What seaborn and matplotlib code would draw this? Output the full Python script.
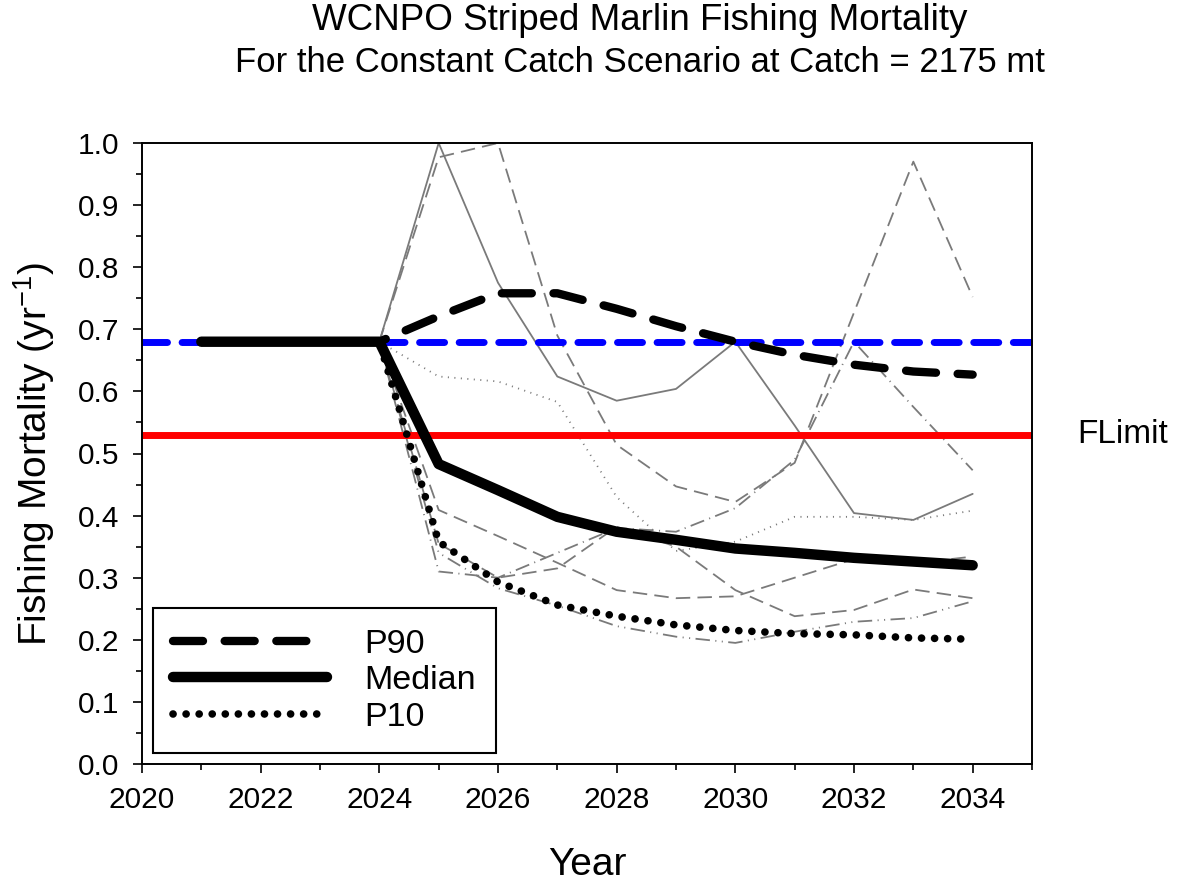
import numpy as np
import pandas as pd
import matplotlib
matplotlib.use("Agg")
import matplotlib.pyplot as plt
from matplotlib.ticker import MultipleLocator, FormatStrFormatter
import seaborn as sns

# Summary series (historical years + projection)
years = [2021, 2022, 2023, 2024, 2025, 2026, 2027, 2028, 2029, 2030, 2031, 2032, 2033, 2034]
p90 = [0.68, 0.68, 0.68, 0.68, 0.721, 0.758, 0.758, 0.733, 0.705, 0.68, 0.659, 0.643, 0.632, 0.627]
median = [0.68, 0.68, 0.68, 0.68, 0.483, 0.441, 0.398, 0.374, 0.361, 0.347, 0.34, 0.332, 0.326, 0.32]
p10 = [0.68, 0.68, 0.68, 0.68, 0.358, 0.293, 0.256, 0.238, 0.224, 0.215, 0.21, 0.208, 0.203, 0.201]

# Individual projection runs (grey)
proj_years = [2024, 2025, 2026, 2027, 2028, 2029, 2030, 2031, 2032, 2033, 2034]
run_a = [0.68, 1.0, 0.775, 0.624, 0.585, 0.604, 0.68, 0.545, 0.404, 0.393, 0.435]
run_b = [0.68, 0.977, 1.0, 0.69, 0.514, 0.447, 0.422, 0.485, 0.727, 0.97, 0.752]
run_c = [0.68, 0.31, 0.30, 0.34, 0.38, 0.374, 0.412, 0.49, 0.68, 0.575, 0.473]
run_d = [0.68, 0.409, 0.367, 0.324, 0.28, 0.267, 0.27, 0.30, 0.33, 0.323, 0.334]
run_e = [0.68, 0.355, 0.30, 0.315, 0.382, 0.35, 0.28, 0.238, 0.248, 0.281, 0.267]
run_f = [0.68, 0.34, 0.283, 0.255, 0.222, 0.205, 0.195, 0.213, 0.229, 0.235, 0.262]
run_g = [0.68, 0.624, 0.616, 0.583, 0.43, 0.343, 0.358, 0.398, 0.398, 0.393, 0.408]

f_target = 0.68
f_limit = 0.53

sns.set_theme(style="ticks")
plt.rcParams["font.family"] = ["Liberation Sans", "DejaVu Sans"]
plt.rcParams["mathtext.default"] = "regular"
for k in ["text.color", "axes.labelcolor", "xtick.color", "ytick.color", "axes.edgecolor"]:
    plt.rcParams[k] = "black"

fig = plt.figure(figsize=(11.8, 8.84), dpi=100)
ax = fig.add_axes([142 / 1180, 1 - 764 / 884, 890 / 1180, 621 / 884])

grey = "#7a7a7a"
runs = [
    (run_a, "-"),
    (run_b, (0, (8, 4))),
    (run_c, (0, (8, 3, 0.6, 3))),
    (run_d, (0, (8, 4))),
    (run_e, (0, (8, 4))),
    (run_f, (0, (8, 3, 0.6, 3, 0.6, 3))),
    (run_g, (0, (0.6, 3))),
]
for vals, ls in runs:
    sns.lineplot(x=proj_years, y=vals, ax=ax, color=grey, lw=1.3, linestyle=ls)

# reference lines
ax.axhline(f_target, color="#0000ff", lw=5, linestyle=(0, (3.6, 2.1)),
           dash_capstyle="round")
ax.axhline(f_limit, color="#ff0000", lw=5, solid_capstyle="butt")

sns.lineplot(x=years, y=p90, ax=ax, color="black", lw=6,
             linestyle=(0, (3.6, 2.6)), dash_capstyle="round", label="P90")
sns.lineplot(x=years, y=median, ax=ax, color="black", lw=7.5,
             solid_capstyle="round", label="Median")
sns.lineplot(x=years, y=p10, ax=ax, color="black", lw=5.5,
             linestyle=(0, (0.01, 1.7)), dash_capstyle="round", label="P10")

ax.set_xlim(2020, 2035)
ax.set_ylim(0, 1.0)
ax.set_xticks(np.arange(2020, 2035, 2))
ax.xaxis.set_minor_locator(MultipleLocator(1))
ax.yaxis.set_major_locator(MultipleLocator(0.1))
ax.yaxis.set_minor_locator(MultipleLocator(0.05))
ax.yaxis.set_major_formatter(FormatStrFormatter("%.1f"))

ax.tick_params(which="major", direction="out", length=6.5, width=1.2,
               labelsize=21.5, pad=9)
ax.tick_params(which="minor", direction="out", length=4.5, width=1.2)
ax.tick_params(axis="y", pad=10)
for s in ax.spines.values():
    s.set_linewidth(1.4)

ax.set_xlabel("Year", fontsize=28)
ax.set_ylabel("Fishing Mortality (yr$^{-1}$)", fontsize=28)
ax.xaxis.set_label_coords(0.5, -0.133)
ax.yaxis.set_label_coords(-0.095, 0.5)

ax.text(2035.77, f_limit, "FLimit", fontsize=24, va="center", ha="left",
        clip_on=False)

fig.text(640 / 1180, 1 - 21 / 884, "WCNPO Striped Marlin Fishing Mortality",
         fontsize=26.5, ha="center", va="center")
fig.text(640 / 1180, 1 - 62 / 884, "For the Constant Catch Scenario at Catch = 2175 mt",
         fontsize=25, ha="center", va="center")

leg = ax.legend(loc="lower left", bbox_to_anchor=(0.0124, 0.0177), fontsize=24.5,
                handlelength=4.5, handletextpad=1.1, labelspacing=0.16,
                borderpad=0.6, borderaxespad=0, fancybox=False, framealpha=1,
                edgecolor="black")
leg.get_frame().set_linewidth(1.5)

fig.savefig("out.png", dpi=100)
